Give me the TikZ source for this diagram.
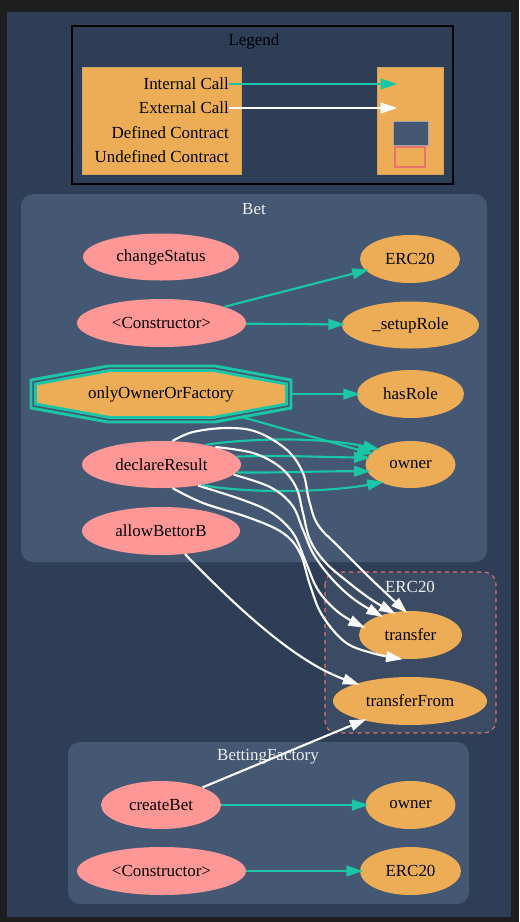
\documentclass[tikz,border=0pt]{standalone}
\usepackage{fontspec}
\setmainfont{Liberation Serif}
\usetikzlibrary{arrows.meta,shapes.geometric,calc}
\definecolor{bgout}{HTML}{1E1E1E}
\definecolor{bgin}{HTML}{2E3E56}
\definecolor{clus}{HTML}{445773}
\definecolor{undef}{HTML}{3B4B63}
\definecolor{undefb}{HTML}{E8726D}
\definecolor{orng}{HTML}{EDAD56}
\definecolor{pnk}{HTML}{FF9797}
\definecolor{tealc}{HTML}{1BC6A6}
\definecolor{edgew}{HTML}{FCFCFC}
\definecolor{ftc}{HTML}{F0F0F0}
\tikzset{
  el/.style 2 args={ellipse, inner sep=0pt, minimum width=#1*1.5pt, minimum height=#2*1.5pt, text=black},
  pk/.style={fill=pnk},
  og/.style={fill=orng},
  tip/.style={-{Triangle[length=12.5pt,width=8pt]}, shorten >=-2.5pt},
  calls/.style={draw=tealc, line width=1.6pt, tip},
  ext/.style={draw=edgew, line width=1.6pt, tip},
  clusbox/.style={fill=clus, rounded corners=9pt},
  clustitle/.style={text=ftc, inner sep=0pt},
  leglab/.style={anchor=east, inner sep=0pt, text=black},
}
\begin{document}
\begin{tikzpicture}[x=0.75pt, y=-0.75pt, font=\fontsize{12.7}{15}\selectfont]
\useasboundingbox (0,0) rectangle (519,922);
\fill[bgout] (0,0) rectangle (519,922);
\fill[bgin] (7,12) rectangle (511,917);

% Legend
\draw[black, line width=0.9pt] (72,26) rectangle (453,184);
\node[inner sep=0pt, text=black] (legt) at (254,41) {Legend};
\draw[fill=orng, draw=orng!75!gray, line width=0.6pt] (82,67) rectangle (241,174);
\draw[fill=orng, draw=orng!75!gray, line width=0.6pt] (377,67) rectangle (443,174);
\draw[fill=clus, draw=gray!70, line width=0.6pt] (393,121) rectangle (428,145);
\draw[fill=orng, draw=undefb, line width=0.8pt] (395,147) rectangle (425,167);
\node[leglab] (lic) at (229,84) {Internal Call};
\node[leglab] (lec) at (229,108) {External Call};
\node[leglab] (ldc) at (229,133) {Defined Contract};
\node[leglab] (luc) at (229,157) {Undefined Contract};
\coordinate (ric) at (394,84);
\coordinate (rec) at (394,108);

% Clusters
\path[clusbox] (21,194) rectangle (487,562);
\node[clustitle] (bett) at (254,209) {Bet};
\path[fill=undef, draw=undefb, dashed, line width=0.8pt, rounded corners=9pt] (325,572) rectangle (496,733);
\node[clustitle] (erct) at (410,587) {ERC20};
\path[clusbox] (68,742) rectangle (469,904);
\node[clustitle] (bft) at (268,757) {BettingFactory};

% Bet nodes
\node[el={78}{23.5}, pk] (cs) at (161,257) {changeStatus};
\node[el={84.5}{24}, pk] (bc) at (161.5,323) {<Constructor>};
\node[el={50}{24}, og] (berc) at (410,259) {ERC20};
\node[el={68.5}{23.5}, og] (sr) at (410.5,325) {\_setupRole};
\draw[draw=tealc, line width=2.2pt] (108,366) -- (215,366) -- (291,380) -- (291,408) -- (215,422) -- (108,422) -- (31,408) -- (31,380) -- cycle;
\draw[fill=orng, draw=tealc, line width=2.2pt] (110,370.5) -- (213,370.5) -- (286.5,384) -- (286.5,404) -- (213,417.5) -- (110,417.5) -- (35.5,404) -- (35.5,384) -- cycle;
\node[rectangle, inner sep=0pt, minimum width=195pt, minimum height=42pt, text=black] (oof) at (161,394) {onlyOwnerOrFactory};
\coordinate (oofse) at (242,417);
\node[el={53.5}{24}, og] (hr) at (410.5,394) {hasRole};
\node[el={79.5}{23.5}, pk] (dr) at (161.5,464.5) {declareResult};
\node[el={45}{23.5}, og] (own) at (410.5,464.5) {owner};
\node[el={79}{24}, pk] (ab) at (161,531) {allowBettorB};

% ERC20 nodes
\node[el={51.5}{24}, og] (tr) at (410.5,635) {transfer};
\node[el={77}{24}, og] (tf) at (410,701) {transferFrom};

% BettingFactory nodes
\node[el={60}{24}, pk] (cb) at (161,805) {createBet};
\node[el={45}{24}, og] (fown) at (410.5,805) {owner};
\node[el={84.5}{24}, pk] (fc) at (161.5,871) {<Constructor>};
\node[el={50.5}{24}, og] (ferc) at (410.5,871) {ERC20};

% Legend arrows
\draw[calls] (lic.east) -- (ric);
\draw[ext] (lec.east) -- (rec);

% Bet internal calls
\draw[calls] (bc) -- (berc);
\draw[calls] (bc) -- (sr);
\draw[calls] (oof.east) -- (hr);
\draw[calls] (oofse) -- (own);
\draw[calls] (dr.24) .. controls (250,438) and (320,437) .. (own.155);
\draw[calls] (dr.6) .. controls (280,455) and (320,457) .. (own.171);
\draw[calls] (dr.-6) .. controls (280,473) and (320,471) .. (own.189);
\draw[calls] (dr.-27) .. controls (250,494) and (330,492) .. (own.211);

% external calls to transfer
\draw[ext] plot[smooth, tension=0.6] coordinates {(dr.65) (193,432) (227,428) (257,432) (287,450) (303,473) (309,500) (318,525) (340,548) (370,578) (tr.103)};
\draw[ext] plot[smooth, tension=0.6] coordinates {(dr.18) (253,453) (280,467) (296,487) (303,513) (310,540) (325,562) (348,582) (372,600) (tr.128)};
\draw[ext] plot[smooth, tension=0.6] coordinates {(dr.-8) (270,487) (292,505) (303,530) (314,555) (333,580) (355,600) (tr.147)};
\draw[ext] plot[smooth, tension=0.6] coordinates {(dr.-30) (243,500) (272,513) (293,533) (305,560) (318,590) (338,612) (tr.170)};
\draw[ext] plot[smooth, tension=0.6] coordinates {(dr.-65) (203,503) (250,518) (283,533) (300,553) (310,585) (322,615) (345,642) (372,653) (tr.245)};
\draw[ext] (ab.-44) .. controls (225,595) and (290,660) .. (tf.162);
\draw[ext] (cb.23) -- (tf);

% BettingFactory internal calls
\draw[calls] (cb) -- (fown);
\draw[calls] (fc) -- (ferc);
\end{tikzpicture}
\end{document}
